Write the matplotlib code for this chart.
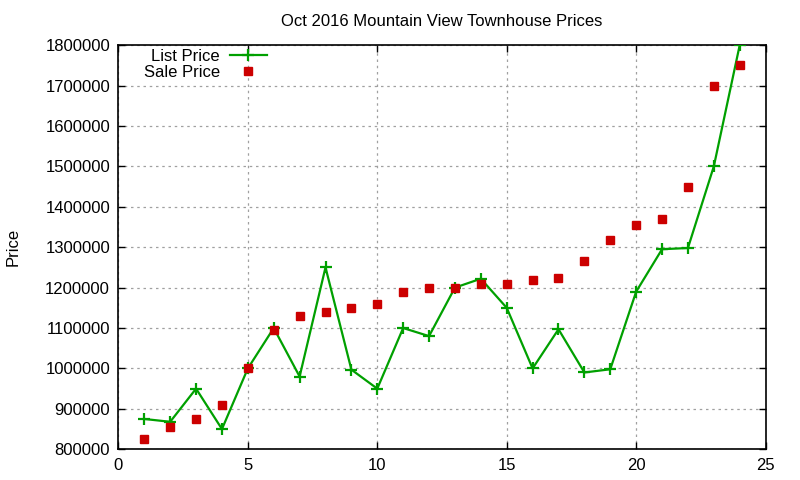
import matplotlib
matplotlib.use("Agg")
import matplotlib.pyplot as plt

# ---------------- data ----------------
house = list(range(1, 25))
list_price = [875000, 868000, 950000, 850000, 1000000, 1100000, 980000, 1250000,
              997000, 950000, 1100000, 1080000, 1200000, 1222000, 1150000, 1000000,
              1097000, 990000, 998000, 1190000, 1295000, 1298000, 1500000, 1800000]
sale_price = [825000, 855000, 875000, 910000, 1000000, 1095000, 1130000, 1140000,
              1150000, 1160000, 1190000, 1200000, 1200000, 1210000, 1210000, 1220000,
              1225000, 1265000, 1318000, 1355000, 1370000, 1450000, 1700000, 1750000]
x_ticks = [0, 5, 10, 15, 20, 25]
y_ticks = list(range(800000, 1800001, 100000))

plt.rcParams['font.family'] = ['Liberation Sans', 'DejaVu Sans']

fig = plt.figure(figsize=(8, 4.8), dpi=100)
ax = fig.add_axes([0.148, 0.064, 0.809, 0.842])

ax.plot(house, list_price, color="#00a000", linewidth=1.6, marker="+",
        markersize=9, markeredgewidth=1.6, label="List Price", zorder=3)
ax.plot(house, sale_price, linestyle="none", marker="s", color="#cc0000",
        markersize=6, label="Sale Price", zorder=4)

ax.set_xlim(0, 25)
ax.set_ylim(800000, 1800000)
ax.set_xticks(x_ticks)
ax.set_yticks(y_ticks)
ax.set_yticklabels([str(v) for v in y_ticks])
ax.tick_params(direction="in", length=5, width=1, labelsize=12, top=True, right=True,
               pad=6)
ax.grid(True, color="#a0a0a0", linestyle=(0, (2, 3)), linewidth=0.9)
for s in ax.spines.values():
    s.set_linewidth(1.2)

ax.set_ylabel("Price", fontsize=12, labelpad=18)
ax.set_title("Oct 2016 Mountain View Townhouse Prices", fontsize=12, pad=14)

leg = ax.legend(loc="upper left", markerfirst=False, frameon=False, fontsize=12,
                handlelength=2.2, borderaxespad=0.0, handletextpad=0.6,
                labelspacing=0.05, bbox_to_anchor=(0.029, 1.007))

fig.savefig("out.png", dpi=100)
